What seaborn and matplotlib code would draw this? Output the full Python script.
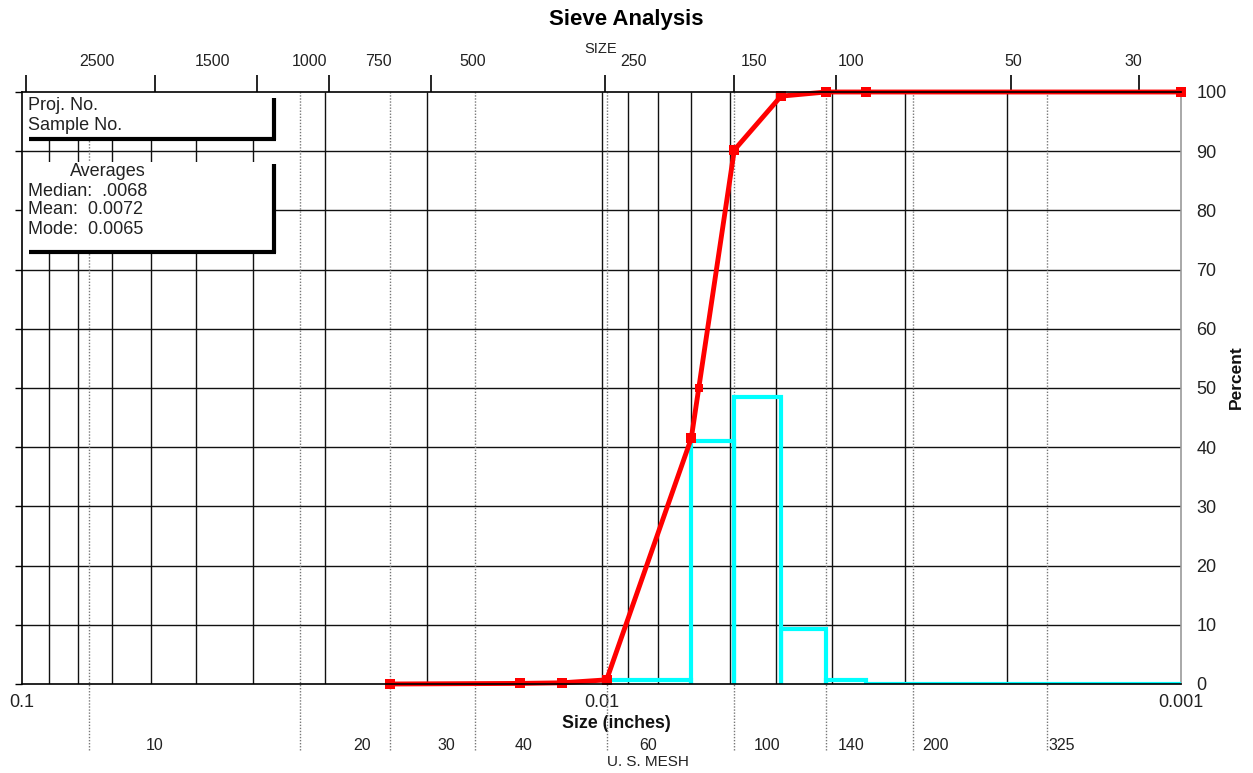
import matplotlib
matplotlib.use("Agg")
import matplotlib.pyplot as plt
import pandas as pd
import seaborn as sns
from matplotlib.patches import Rectangle
from matplotlib.lines import Line2D
from matplotlib.ticker import NullLocator

# Cumulative percent retained against sieve opening (inches)
sieve_in = [0.0232, 0.0138, 0.0117, 0.0098, 0.0070, 0.0059, 0.0049, 0.0041, 0.0035, 0.001]
cum_pct = [0.0, 0.1, 0.2, 0.7, 41.5, 90.2, 99.3, 100.0, 100.0, 100.0]

# Percent retained in each size interval (interval edges in inches)
bin_edges_in = [0.0098, 0.0070, 0.0059, 0.0049, 0.0041, 0.0035, 0.001]
bin_pct = [0.7, 41.0, 48.5, 9.3, 0.6, 0.0]

median_in = 0.0068
median_pct = 50.0

header_lines = ["Proj. No.", "Sample No."]
avg_title = "Averages"
avg_lines = ["Median:  .0068", "Mean:  0.0072", "Mode:  0.0065"]

# U.S. standard mesh openings (inches) and their labels
mesh_open_in = [0.0766, 0.0331, 0.0232, 0.0165, 0.0098, 0.0059, 0.0041, 0.0029, 0.0017]
mesh_labels = ["10", "20", "30", "40", "60", "100", "140", "200", "325"]
mesh_label_x = [0.05895, 0.0259, 0.01855, 0.01361, 0.008314, 0.005181, 0.003711, 0.002657, 0.001605]

# Particle size scale along the top (microns)
size_um = [2500, 1500, 1000, 750, 500, 250, 150, 100, 50, 30]
size_labels = [str(v) for v in size_um]
size_label_x = [0.07423, 0.0470, 0.03197, 0.0243, 0.01666, 0.008822, 0.005454, 0.003711, 0.00195, 0.00121]

x_ticks = [0.1, 0.01, 0.001]
x_tick_labels = ["0.1", "0.01", "0.001"]
y_ticks = list(range(0, 101, 10))

sns.set_style("white")
plt.rcParams["font.family"] = ["Liberation Sans", "DejaVu Sans"]

W, H = 1253, 773
fig = plt.figure(figsize=(W / 100, H / 100), dpi=100)
L, R, T, B = 22, 1181, 92, 684
ax = fig.add_axes([L / W, (H - B) / H, (R - L) / W, (B - T) / H])
ax.set_xscale("log")
ax.set_xlim(0.1, 0.001)
ax.set_ylim(0, 100)


def axfrac(xp, yp):
    return (xp - L) / (R - L), (B - yp) / (B - T)


# grid: log decades and every 10 percent
grid_x = [k * 10.0 ** e for e in (-2, -3) for k in range(2, 10)] + [0.01]
ax.vlines(grid_x, 0, 100, colors="#111111", lw=1.0, zorder=1)
ax.hlines(y_ticks[1:-1], 0.1, 0.001, colors="#111111", lw=1.0, zorder=1)

# mesh sieve lines running below the axis
ax.vlines(mesh_open_in, -0.112, 1.0, transform=ax.get_xaxis_transform(),
          colors="#777777", linestyles=(0, (1, 1.2)), lw=1.0, clip_on=False, zorder=1.5)
for xv, lab in zip(mesh_label_x, mesh_labels):
    ax.text(xv, axfrac(0, 745)[1], lab, transform=ax.get_xaxis_transform(),
            ha="center", va="center", fontsize=11.5, color="#222222")
ax.text(*axfrac(648, 762), "U. S. MESH", transform=ax.transAxes,
        ha="center", va="center", fontsize=11, color="#222222")

# interval histogram drawn as outlined bars
hx, hy = [], []
for i, h in enumerate(bin_pct):
    hx += [bin_edges_in[i], bin_edges_in[i], bin_edges_in[i + 1], bin_edges_in[i + 1]]
    hy += [0, h, h, 0]
hist_df = pd.DataFrame({"size": hx, "pct": hy})
sns.lineplot(data=hist_df, x="size", y="pct", sort=False, estimator=None, ax=ax,
             color="#00FFFF", lw=3.0, solid_joinstyle="miter", zorder=4)

# cumulative curve
cum_df = pd.DataFrame({"size": sieve_in, "pct": cum_pct})
sns.lineplot(data=cum_df, x="size", y="pct", sort=False, estimator=None, ax=ax,
             color="#FF0000", lw=3.5, marker="s", markersize=6.5, markeredgewidth=0,
             zorder=5, clip_on=False)
ax.plot([median_in], [median_pct], marker="s", color="#FF0000", markersize=6,
        markeredgewidth=0, zorder=5)

# header boxes with heavy right and bottom edges
for (y0, y1, ry0) in [(92, 139, 98), (162, 252, 164)]:
    x0f, y0f = axfrac(L, y1)
    x1f, y1f = axfrac(274, y0)
    ax.add_patch(Rectangle((x0f, y0f), x1f - x0f, y1f - y0f, transform=ax.transAxes,
                           facecolor="white", edgecolor="none", zorder=3))
    xa, ya = axfrac(274, ry0)
    xb, yb = axfrac(274, y1 + 1)
    ax.add_line(Line2D([xa, xb], [ya, yb], transform=ax.transAxes, color="black",
                       lw=3.0, solid_capstyle="butt", zorder=6))
    xc, yc = axfrac(29, y1)
    xd, yd = axfrac(275.5, y1)
    ax.add_line(Line2D([xc, xd], [yc, yd], transform=ax.transAxes, color="black",
                       lw=3.0, solid_capstyle="butt", zorder=6))

text_kw = dict(transform=ax.transAxes, fontsize=13, color="#222222", va="center", zorder=7)
for yp, line in zip([105, 125], header_lines):
    ax.text(*axfrac(28, yp), line, ha="left", **text_kw)
ax.text(*axfrac(108, 172), avg_title, ha="center", **text_kw)
for yp, line in zip([191, 210, 229], avg_lines):
    ax.text(*axfrac(28, yp), line, ha="left", **text_kw)

# spines
for side in ("left", "bottom", "top"):
    ax.spines[side].set_color("black")
    ax.spines[side].set_linewidth(1.2)
    ax.spines[side].set_zorder(6)
ax.spines["right"].set_color("#999999")
ax.spines["right"].set_linewidth(1.2)

# axes ticks and labels
ax.set_xticks(x_ticks)
ax.set_xticklabels(x_tick_labels)
ax.xaxis.set_minor_locator(NullLocator())
ax.tick_params(axis="x", length=0, pad=7, labelsize=13, labelcolor="#222222")
ax.set_yticks(y_ticks)
ax.tick_params(axis="y", left=True, right=False, labelleft=False, labelright=True,
               direction="out", length=5, width=1.0, pad=6, labelsize=13,
               labelcolor="#222222", color="black")
ax.set_xlabel("Size (inches)", fontsize=12.8, fontweight="bold", color="#111111")
ax.xaxis.set_label_coords(*axfrac(616, 723))
ax.xaxis.label.set_va("center")
ax.set_ylabel("")

# micron scale along the top
sec = ax.secondary_xaxis("top", functions=(lambda x: x * 25400.0, lambda u: u / 25400.0))
sec.set_xticks(size_um)
sec.set_xticklabels([])
sec.xaxis.set_minor_locator(NullLocator())
sec.tick_params(axis="x", which="both", length=12.5, width=1.2, direction="out", color="black")
sec.spines["top"].set_visible(False)
for xv, lab in zip(size_label_x, size_labels):
    ax.text(xv, axfrac(0, 61)[1], lab, transform=ax.get_xaxis_transform(),
            ha="center", va="center", fontsize=11.5, color="#222222")

fig.text(626 / W, 1 - 19 / H, "Sieve Analysis", ha="center", va="center",
         fontsize=16, fontweight="bold", color="black")
fig.text(601 / W, 1 - 49 / H, "SIZE", ha="center", va="center", fontsize=10.5, color="#222222")
fig.text(1236 / W, 1 - 377 / H, "Percent", ha="center", va="center", rotation=90,
         fontsize=12.5, fontweight="bold", color="#111111")

fig.savefig("out.png", dpi=100, facecolor="white")
